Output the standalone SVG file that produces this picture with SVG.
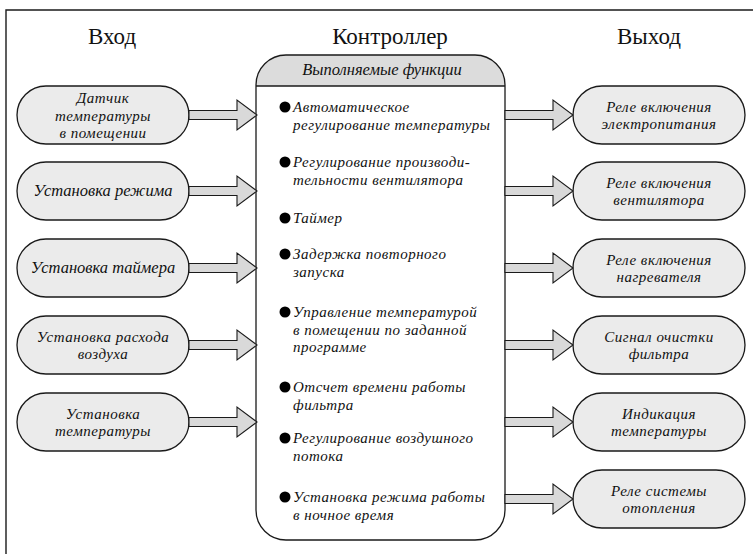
<svg xmlns="http://www.w3.org/2000/svg" width="753" height="554" viewBox="0 0 753 554">
<style>
.frame{fill:none;stroke:#1a1a1a;stroke-width:1.4}
.pill{fill:#ebebeb;stroke:#1a1a1a;stroke-width:1.3}
.arr{fill:#d9d9d9;stroke:#1a1a1a;stroke-width:1.1;stroke-linejoin:miter}
.title{font-family:"Liberation Serif","Times New Roman",serif;font-size:23px;fill:#111;text-anchor:middle}
.lbl{font-family:"Liberation Serif","Times New Roman",serif;font-style:italic;font-size:15px;letter-spacing:0.5px;fill:#111;text-anchor:middle}
.one{font-size:16.5px;letter-spacing:0}
.item{font-family:"Liberation Serif","Times New Roman",serif;font-style:italic;font-size:15px;letter-spacing:0.5px;fill:#111}
.bul{fill:#000}
</style>
<rect width="753" height="554" fill="#fff"/>
<path class="frame" d="M6,554 V10 H753"/>
<text class="title" x="112" y="44">Вход</text>
<text class="title" x="390" y="44">Контроллер</text>
<text class="title" x="649" y="44">Выход</text>

<g id="controller">
<path d="M256,86 V85 A30,30 0 0 1 286,55 H475 A30,30 0 0 1 505,85 V86 Z" fill="#dcdcdc"/>
<path d="M256,85 A30,30 0 0 1 286,55 H475 A30,30 0 0 1 505,85 V510 A30,30 0 0 1 475,540 H286 A30,30 0 0 1 256,510 Z" fill="none" stroke="#1a1a1a" stroke-width="1.3"/>
<line x1="256" y1="86" x2="505" y2="86" stroke="#1a1a1a" stroke-width="1.3"/>
<text class="lbl one" x="382" y="75">Выполняемые функции</text>
<g class="bul">
<circle cx="285" cy="107" r="5.5"/>
<circle cx="285" cy="162" r="5.5"/>
<circle cx="285" cy="218" r="5.5"/>
<circle cx="285" cy="254" r="5.5"/>
<circle cx="285" cy="312" r="5.5"/>
<circle cx="285" cy="387" r="5.5"/>
<circle cx="285" cy="438" r="5.5"/>
<circle cx="285" cy="497" r="5.5"/>
</g>
<text class="item" x="293" y="112">Автоматическое</text>
<text class="item" x="293" y="129.5">регулирование температуры</text>
<text class="item" x="293" y="167">Регулирование производи-</text>
<text class="item" x="293" y="184.5">тельности вентилятора</text>
<text class="item" x="293" y="223">Таймер</text>
<text class="item" x="293" y="259">Задержка повторного</text>
<text class="item" x="293" y="276.5">запуска</text>
<text class="item" x="293" y="317">Управление температурой</text>
<text class="item" x="293" y="334.5">в помещении по заданной</text>
<text class="item" x="293" y="352">программе</text>
<text class="item" x="293" y="392">Отсчет времени работы</text>
<text class="item" x="293" y="409.5">фильтра</text>
<text class="item" x="293" y="443">Регулирование воздушного</text>
<text class="item" x="293" y="460.5">потока</text>
<text class="item" x="293" y="502">Установка режима работы</text>
<text class="item" x="293" y="519.5">в ночное время</text>
</g>

<g id="in1"><rect class="pill" x="17" y="86" width="172" height="58" rx="29"/>
<text class="lbl" x="103" y="103">Датчик</text><text class="lbl" x="103" y="120.5">температуры</text><text class="lbl" x="103" y="138">в помещении</text></g>
<g id="in2"><rect class="pill" x="17" y="162" width="172" height="58" rx="29"/>
<text class="lbl one" x="103" y="196">Установка режима</text></g>
<g id="in3"><rect class="pill" x="17" y="239" width="172" height="58" rx="29"/>
<text class="lbl one" x="103" y="273">Установка таймера</text></g>
<g id="in4"><rect class="pill" x="17" y="316" width="172" height="58" rx="29"/>
<text class="lbl" x="103" y="341.5">Установка расхода</text><text class="lbl" x="103" y="359">воздуха</text></g>
<g id="in5"><rect class="pill" x="17" y="393" width="172" height="58" rx="29"/>
<text class="lbl" x="103" y="418.5">Установка</text><text class="lbl" x="103" y="436">температуры</text></g>

<g id="out1"><rect class="pill" x="573" y="86" width="172" height="58" rx="29"/>
<text class="lbl" x="659" y="111.5">Реле включения</text><text class="lbl" x="659" y="129">электропитания</text></g>
<g id="out2"><rect class="pill" x="573" y="162" width="172" height="58" rx="29"/>
<text class="lbl" x="659" y="187.5">Реле включения</text><text class="lbl" x="659" y="205">вентилятора</text></g>
<g id="out3"><rect class="pill" x="573" y="239" width="172" height="58" rx="29"/>
<text class="lbl" x="659" y="264.5">Реле включения</text><text class="lbl" x="659" y="282">нагревателя</text></g>
<g id="out4"><rect class="pill" x="573" y="316" width="172" height="58" rx="29"/>
<text class="lbl" x="659" y="341.5">Сигнал очистки</text><text class="lbl" x="659" y="359">фильтра</text></g>
<g id="out5"><rect class="pill" x="573" y="393" width="172" height="58" rx="29"/>
<text class="lbl" x="659" y="418.5">Индикация</text><text class="lbl" x="659" y="436">температуры</text></g>
<g id="out6"><rect class="pill" x="573" y="470" width="172" height="58" rx="29"/>
<text class="lbl" x="659" y="495.5">Реле системы</text><text class="lbl" x="659" y="513">отопления</text></g>

<g id="connectors">
<polygon class="arr" points="189,110.5 237,110.5 237,100 257,115 237,130 237,119.5 189,119.5"/>
<polygon class="arr" points="189,186.5 237,186.5 237,176 257,191 237,206 237,195.5 189,195.5"/>
<polygon class="arr" points="189,263.5 237,263.5 237,253 257,268 237,283 237,272.5 189,272.5"/>
<polygon class="arr" points="189,340.5 237,340.5 237,330 257,345 237,360 237,349.5 189,349.5"/>
<polygon class="arr" points="189,417.5 237,417.5 237,407 257,422 237,437 237,426.5 189,426.5"/>
<polygon class="arr" points="505,110.5 553,110.5 553,100 573,115 553,130 553,119.5 505,119.5"/>
<polygon class="arr" points="505,186.5 553,186.5 553,176 573,191 553,206 553,195.5 505,195.5"/>
<polygon class="arr" points="505,263.5 553,263.5 553,253 573,268 553,283 553,272.5 505,272.5"/>
<polygon class="arr" points="505,340.5 553,340.5 553,330 573,345 553,360 553,349.5 505,349.5"/>
<polygon class="arr" points="505,417.5 553,417.5 553,407 573,422 553,437 553,426.5 505,426.5"/>
<polygon class="arr" points="505,494.5 553,494.5 553,484 573,499 553,514 553,503.5 505,503.5"/>
</g>
</svg>
